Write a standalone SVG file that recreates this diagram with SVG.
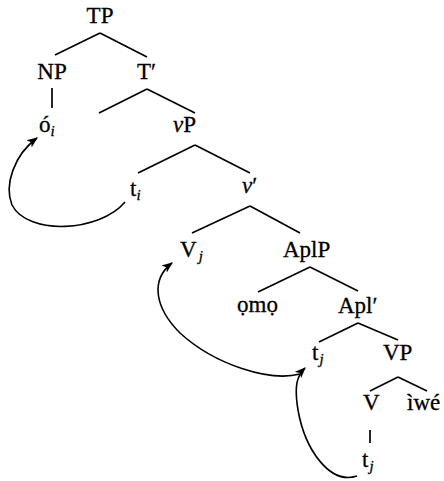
<svg xmlns="http://www.w3.org/2000/svg" width="444" height="481" viewBox="0 0 444 481">
<style>
text{font-family:"Liberation Serif","Times New Roman",serif;font-size:23px;fill:#000;stroke:#000;stroke-width:0.3}
.s{font-size:15px;font-style:italic}
.i{font-style:italic}
.e{stroke:#000;stroke-width:1.7;fill:none}
.a{stroke:#000;stroke-width:1.6;fill:none;marker-end:url(#ah)}
</style>
<defs>
<marker id="ah" viewBox="0 0 10 10" refX="9" refY="5" markerWidth="11" markerHeight="11" markerUnits="userSpaceOnUse" orient="auto">
<path d="M0,1 L10,5 L0,9 L2.5,5 Z" fill="#000"/>
</marker>
</defs>
<rect width="444" height="481" fill="#fff"/>
<g id="connectors">
<line class="e" x1="100" y1="33" x2="55" y2="55"/>
<line class="e" x1="100" y1="33" x2="147" y2="57"/>
<line class="e" x1="52" y1="88" x2="52" y2="108"/>
<line class="e" x1="147" y1="89" x2="99" y2="113"/>
<line class="e" x1="147" y1="89" x2="195" y2="113"/>
<line class="e" x1="195" y1="145" x2="138" y2="173"/>
<line class="e" x1="195" y1="145" x2="250" y2="173"/>
<line class="e" x1="250" y1="206" x2="192" y2="233"/>
<line class="e" x1="250" y1="206" x2="300" y2="233"/>
<line class="e" x1="310" y1="267" x2="258" y2="292"/>
<line class="e" x1="310" y1="267" x2="358" y2="291"/>
<line class="e" x1="358" y1="323" x2="319" y2="342"/>
<line class="e" x1="358" y1="323" x2="398" y2="340"/>
<line class="e" x1="398" y1="377" x2="370" y2="391"/>
<line class="e" x1="398" y1="377" x2="427" y2="391"/>
<line class="e" x1="370" y1="430" x2="370" y2="443"/>
<path class="a" d="M125,202 C100,232 28,236 12,205 C4,185 14,155 37,138"/>
<path class="a" d="M300,374 C270,382 215,365 180,333 C155,308 150,280 172,263"/>
<path class="a" d="M357,476 C330,485 305,450 298,410 C294,385 297,376 305,368"/>
</g>
<g id="TP"><text x="100" y="23" text-anchor="middle">TP</text></g>
<g id="NP"><text x="52" y="79" text-anchor="middle">NP</text></g>
<g id="Tbar"><text x="137" y="79">T′</text></g>
<g id="o_i"><text x="39" y="132">ó<tspan class="s" dy="4">i</tspan></text></g>
<g id="vP"><text x="173" y="132"><tspan class="i">v</tspan>P</text></g>
<g id="t_i"><text x="130" y="196">t<tspan class="s" dy="4">i</tspan></text></g>
<g id="vbar"><text x="242" y="193"><tspan class="i">v</tspan>′</text></g>
<g id="V_j"><text x="180" y="257">V<tspan class="s" dx="2" dy="4">j</tspan></text></g>
<g id="AplP"><text x="283" y="257">AplP</text></g>
<g id="omo"><text x="237" y="312">ọmọ</text></g>
<g id="Aplbar"><text x="338" y="313">Apl′</text></g>
<g id="t_j1"><text x="312" y="360">t<tspan class="s" dx="1" dy="4">j</tspan></text></g>
<g id="VP"><text x="383" y="360">VP</text></g>
<g id="V"><text x="363" y="410">V</text></g>
<g id="iwe"><text x="407" y="410">ìwé</text></g>
<g id="t_j2"><text x="362" y="467">t<tspan class="s" dx="1" dy="4">j</tspan></text></g>
</svg>
